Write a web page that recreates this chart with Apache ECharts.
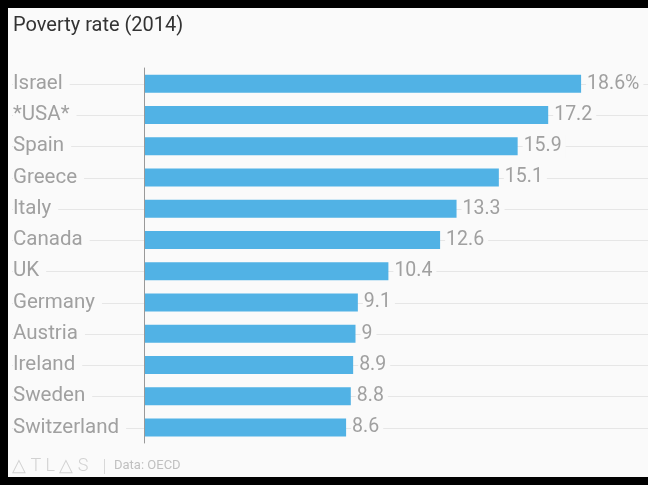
<!DOCTYPE html>
<html>
<head>
<meta charset="utf-8">
<script src="https://cdn.jsdelivr.net/npm/echarts@6/dist/echarts.min.js"></script>
<style>
  html, body { margin: 0; padding: 0; background: #000; width: 648px; height: 485px; overflow: hidden; }
  #chart { position: absolute; left: 8px; top: 8px; width: 640px; height: 469px; }
</style>
</head>
<body>
<div id="chart"></div>
<script>
const categories = ['Israel', '*USA*', 'Spain', 'Greece', 'Italy', 'Canada', 'UK', 'Germany', 'Austria', 'Ireland', 'Sweden', 'Switzerland'];
const values = [18.6, 17.2, 15.9, 15.1, 13.3, 12.6, 10.4, 9.1, 9, 8.9, 8.8, 8.6];
const titleText = 'Poverty rate (2014)';
const sourceText = 'Data: OECD';
const logoText = '△ T L △ S';

const FONT = 'Roboto, "Noto Sans", sans-serif';
const chart = echarts.init(document.getElementById('chart'));
chart.setOption({
  backgroundColor: '#fafafa',
  animation: false,
  title: {
    text: titleText,
    left: 5, top: 8, padding: 0,
    textStyle: { color: '#333', fontSize: 20, fontWeight: 'normal', fontFamily: FONT }
  },
  grid: [
    { left: 136, top: 60, width: 470, height: 375 },
    { left: 4, top: 76, right: 0, height: 344 }
  ],
  xAxis: [
    { gridIndex: 0, type: 'value', min: 0, max: 20, show: false, splitLine: { show: false } },
    { gridIndex: 1, type: 'value', min: 0, max: 1, show: false, splitLine: { show: false } }
  ],
  yAxis: [
    {
      gridIndex: 0, type: 'category', data: categories, inverse: true,
      axisLine: { show: true, lineStyle: { color: '#999', width: 1 } },
      axisTick: { show: false },
      splitLine: { show: false },
      axisLabel: {
        align: 'left', margin: 131, color: '#a0a0a0', fontSize: 20.5, fontFamily: FONT,
        backgroundColor: '#fafafa', padding: [5, 7, 0, 0]
      },
      z: 3
    },
    {
      gridIndex: 1, type: 'category', data: categories, inverse: true, boundaryGap: false,
      axisLine: { show: false }, axisTick: { show: false }, axisLabel: { show: false },
      splitLine: { show: true, lineStyle: { color: '#e6e6e6', width: 1 } }
    }
  ],
  series: [{
    type: 'bar',
    xAxisIndex: 0, yAxisIndex: 0,
    data: values,
    barWidth: 18,
    itemStyle: { color: '#51b2e5' },
    label: {
      show: true, position: 'right', distance: 5,
      color: '#a0a0a0', fontSize: 19.5, fontFamily: FONT,
      backgroundColor: '#fafafa', padding: [4, 4, 0, 1],
      formatter: p => p.dataIndex === 0 ? p.value + '%' : String(p.value)
    },
    z: 2
  }],
  graphic: [
    { type: 'text', x: 4, y: 458, style: { text: logoText, fill: '#d2d2d2', font: '300 18px ' + FONT, verticalAlign: 'middle' } },
    { type: 'rect', shape: { x: 96, y: 451, width: 1, height: 15 }, style: { fill: '#d8d8d8' } },
    { type: 'text', x: 106, y: 458, style: { text: sourceText, fill: '#c0c0c0', font: '13px ' + FONT, verticalAlign: 'middle' } }
  ]
});
</script>
</body>
</html>
